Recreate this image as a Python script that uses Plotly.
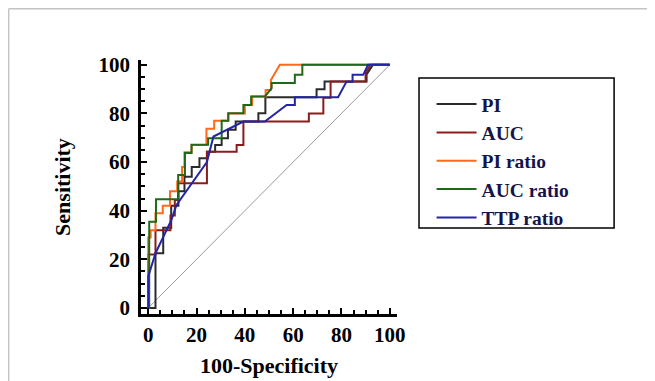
import plotly.graph_objects as go

# ---- data ----
series_names = ["PI", "AUC", "PI ratio", "AUC ratio", "TTP ratio"]

pi_x = [0, 3, 3, 6.2, 6.2, 9.5, 9.5, 12.5, 12.5, 15, 15, 18, 18, 21.2, 21.2, 24.3, 24.3, 27.7, 27.7,
        30.4, 30.4, 33, 33, 36.2, 36.2, 45.6, 45.6, 48.5, 48.5, 69.7, 69.7, 73, 73, 90.4, 90.4, 93, 100]
pi_y = [0, 0, 22.5, 22.5, 33, 33, 42, 42, 48, 48, 54, 54, 58, 58, 61.6, 61.6, 64.3, 64.3, 67,
        67, 69.8, 69.8, 73.3, 73.3, 76.7, 76.7, 80.1, 80.1, 86.7, 86.7, 90, 90, 93.2, 93.2, 96, 100, 100]

auc_x = [0, 0, 3, 3, 9.2, 9.2, 11, 11, 12.4, 12.4, 24.3, 24.3, 36.6, 36.6, 39.4, 39.4, 66.5, 66.5,
         72.5, 72.5, 75.5, 75.5, 90, 90, 92, 100]
auc_y = [0, 22, 22, 32, 32, 38, 38, 44.4, 44.4, 51.3, 51.3, 64.3, 64.3, 67, 67, 76.7, 76.7, 80,
         80, 86.5, 86.5, 93.2, 93.2, 96.5, 100, 100]

pir_x = [0, 0, 1, 1, 3, 3, 6, 6, 9, 9, 12, 12, 14, 14, 15, 15, 18, 18, 24.1, 24.1, 27.3, 27.3,
         33, 33, 40, 40, 43, 43, 48.6, 48.6, 50.8, 50.8, 54.5, 100]
pir_y = [0, 29, 29, 32, 32, 39, 39, 42, 42, 48, 48, 52, 52, 58, 58, 64, 64, 67, 67, 73.7, 73.7, 77,
         77, 80, 80, 83.5, 83.5, 87, 87, 89.7, 89.7, 93.8, 100, 100]

aucr_x = [0, 0.4, 0.4, 3.2, 3.2, 12.4, 12.4, 15.2, 15.2, 17.9, 17.9, 24.8, 24.8, 30.4, 30.4, 33.2,
          33.2, 39.4, 39.4, 42.6, 42.6, 48.3, 51.1, 51.1, 60.7, 60.7, 63.8, 63.8, 100]
aucr_y = [0, 0, 35.5, 35.5, 44.7, 44.7, 54.7, 54.7, 63.7, 63.7, 67.1, 67.1, 69.8, 69.8, 77, 77,
          80.1, 80.1, 83.5, 83.5, 87, 87, 90.4, 92.5, 92.5, 95.9, 95.9, 100, 100]

ttp_x = [0, 0, 3, 9.6, 11.7, 22.7, 24.3, 27, 36.6, 39.4, 48.3, 57.3, 60.7, 60.7, 78.6, 82.1, 84.6,
         84.6, 89, 91, 100]
ttp_y = [0, 13, 22.5, 36.2, 42.4, 58.1, 60, 70.5, 75.3, 76.7, 76.7, 83.5, 83.5, 86.7, 86.7, 93.1, 93.1,
         95.9, 95.9, 100, 100]

ref_x = [0, 100]
ref_y = [0, 100]

x_ticks = [0, 20, 40, 60, 80, 100]
y_ticks = [0, 20, 40, 60, 80, 100]

colors = ["#2b2b2b", "#8b1c1c", "#ff6a1a", "#1f6a1a", "#2424a8"]
FONT = "Liberation Serif, Times New Roman, serif"

fig = go.Figure()
fig.add_trace(go.Scatter(x=ref_x, y=ref_y, mode="lines", showlegend=False,
                         line=dict(color="#9a9a9a", width=1), hoverinfo="skip"))
for name, xs, ys, c in zip(series_names,
                           [pi_x, auc_x, pir_x, aucr_x, ttp_x],
                           [pi_y, auc_y, pir_y, aucr_y, ttp_y], colors):
    fig.add_trace(go.Scatter(x=xs, y=ys, mode="lines", name=name,
                             line=dict(color=c, width=2)))

axis_common = dict(
    showline=True, linecolor="black", linewidth=2.5, mirror=False,
    ticks="inside", ticklen=6, tickwidth=2, tickcolor="black",
    minor=dict(ticks="inside", dtick=5, ticklen=4, tickwidth=1.5, tickcolor="black"),
    showgrid=False, zeroline=False, automargin=False,
    tickfont=dict(family=FONT, size=21, color="black", weight="bold"),
)

# body has an 8px default margin in the page, so the figure is 647x373
fig.update_layout(
    width=647, height=373,
    margin=dict(l=133, r=258, t=52, b=67),
    paper_bgcolor="white", plot_bgcolor="white",
    xaxis=dict(range=[-3, 103], tickvals=x_ticks,
               title=dict(text="<b>100-Specificity</b>", font=dict(family=FONT, size=22, color="black"),
                          standoff=12),
               **axis_common),
    yaxis=dict(range=[-2.5, 102], tickvals=y_ticks, ticklabelstandoff=4,
               title=dict(text="<b>Sensitivity</b>", font=dict(family=FONT, size=22, color="black"),
                          standoff=22),
               **axis_common),
    legend=dict(x=1.135, y=0.902, xanchor="left", yanchor="top", itemwidth=40,
                font=dict(family=FONT, size=19.5, color="#15154a", weight="bold"),
                bgcolor="rgba(0,0,0,0)", borderwidth=0),
    shapes=[
        dict(type="rect", xref="paper", yref="paper", x0=1.086, x1=1.848, y0=0.339, y1=0.929,
             line=dict(color="black", width=1.5)),
        dict(type="line", xref="paper", yref="paper", x0=-0.517, x1=2.01, y0=1.202, y1=1.202,
             line=dict(color="#c4c4c4", width=1.5)),
        dict(type="line", xref="paper", yref="paper", x0=-0.517, x1=-0.517, y0=1.202, y1=-0.27,
             line=dict(color="#c4c4c4", width=1.5)),
    ],
)

fig.write_html("out.html")
